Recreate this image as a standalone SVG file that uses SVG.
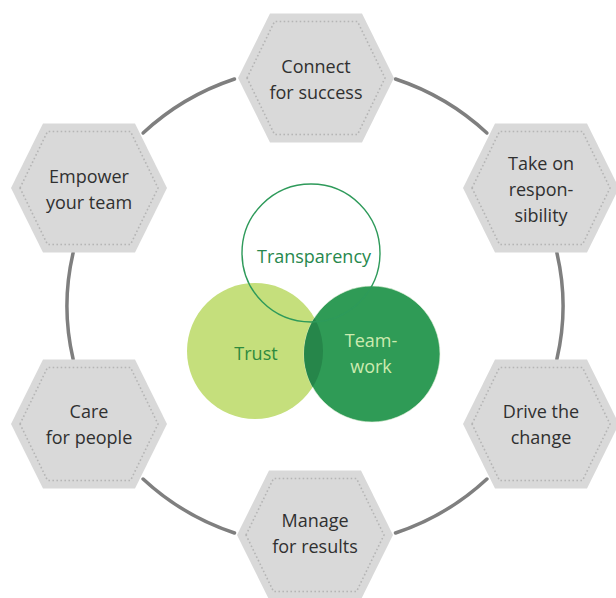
<svg xmlns="http://www.w3.org/2000/svg" width="616" height="598" viewBox="0 0 616 598">
<defs>
<style>
.ring{fill:none;stroke:#7f7f7f;stroke-width:3.5;stroke-linecap:round}
.hex{fill:#d9d9d9}
.hexin{fill:none;stroke:#b5b5b5;stroke-width:1.6;stroke-dasharray:1.6 2.4}
.lbl{font-family:"Open Sans","Liberation Sans",sans-serif;font-size:18px;fill:#303030;text-anchor:middle}
.venn{font-family:"Open Sans","Liberation Sans",sans-serif;font-size:18px;text-anchor:middle}
</style>
<polygon id="hx" points="-78,0 -46,-64.5 46,-64.5 78,0 46,64.5 -46,64.5"/>
<polygon id="hxi" points="-69,0 -41.5,-56.5 41.5,-56.5 69,0 41.5,56.5 -41.5,56.5"/>
<clipPath id="twclip"><circle cx="372" cy="354" r="68"/></clipPath>
</defs>
<rect width="616" height="598" fill="#ffffff"/>
<g id="connectors">
<path class="ring" d="M143.1,133 A248,240 0 0 1 234.5,79"/>
<path class="ring" d="M395.5,79 A248,240 0 0 1 486.9,133"/>
<path class="ring" d="M556.9,253 A248,240 0 0 1 556.9,359"/>
<path class="ring" d="M486.9,479 A248,240 0 0 1 395.5,533"/>
<path class="ring" d="M234.5,533 A248,240 0 0 1 143.1,479"/>
<path class="ring" d="M73.1,359 A248,240 0 0 1 73.1,253"/>
</g>
<g id="connect">
<use href="#hx" class="hex" x="316" y="78"/><use href="#hxi" class="hexin" x="316" y="78"/>
<text class="lbl" x="316" y="73">Connect</text><text class="lbl" x="316" y="99">for success</text>
</g>
<g id="responsibility">
<use href="#hx" class="hex" x="541" y="188"/><use href="#hxi" class="hexin" x="541" y="188"/>
<text class="lbl" x="541" y="170">Take on</text><text class="lbl" x="541" y="196">respon-</text><text class="lbl" x="541" y="222">sibility</text>
</g>
<g id="change">
<use href="#hx" class="hex" x="541" y="424"/><use href="#hxi" class="hexin" x="541" y="424"/>
<text class="lbl" x="541" y="418">Drive the</text><text class="lbl" x="541" y="444">change</text>
</g>
<g id="results">
<use href="#hx" class="hex" x="315" y="535"/><use href="#hxi" class="hexin" x="315" y="535"/>
<text class="lbl" x="315" y="527">Manage</text><text class="lbl" x="315" y="553">for results</text>
</g>
<g id="people">
<use href="#hx" class="hex" x="89" y="424"/><use href="#hxi" class="hexin" x="89" y="424"/>
<text class="lbl" x="89" y="418">Care</text><text class="lbl" x="89" y="444">for people</text>
</g>
<g id="empower">
<use href="#hx" class="hex" x="89" y="188"/><use href="#hxi" class="hexin" x="89" y="188"/>
<text class="lbl" x="89" y="183">Empower</text><text class="lbl" x="89" y="209">your team</text>
</g>
<g id="trust">
<circle cx="255" cy="351" r="68" fill="#c5df7c"/>
</g>
<g id="teamwork">
<circle cx="372" cy="354" r="68" fill="#2f9b56" stroke="#e6f2dc" stroke-opacity="0.6" stroke-width="1"/>
<circle cx="255" cy="351" r="68" fill="#26864a" clip-path="url(#twclip)"/>
</g>
<g id="transparency">
<circle cx="311" cy="253" r="69" fill="none" stroke="#2e9a5a" stroke-width="1.4"/>
<text class="venn" x="314" y="263" fill="#27884d">Transparency</text>
</g>
<text class="venn" x="256" y="360" fill="#2e8a3e">Trust</text>
<text class="venn" x="371" y="347" fill="#cdebb0">Team-</text>
<text class="venn" x="371" y="373" fill="#cdebb0">work</text>
</svg>
